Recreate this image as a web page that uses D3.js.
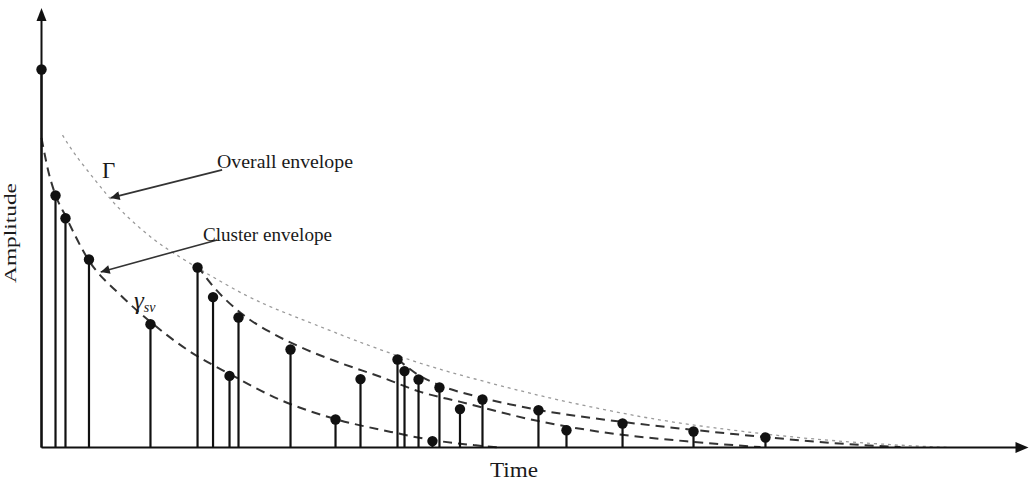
<!DOCTYPE html>
<html>
<head>
<meta charset="utf-8">
<script src="https://cdn.jsdelivr.net/npm/d3@7"></script>
<style>
  html, body { margin: 0; padding: 0; background: #fff; }
  svg { display: block; }
  text { font-family: "Liberation Serif", "DejaVu Serif", serif; fill: #1a1a1a; }
</style>
</head>
<body>
<svg id="chart" width="1030" height="483"></svg>
<script>
// Multipath arrivals: arrival time and amplitude of each ray
const arrivalTimes = [0, 1.42, 2.43, 4.81, 11.04, 15.81, 17.38, 19.05, 19.96, 25.23,
  29.79, 32.32, 36.07, 36.78, 38.2, 39.61, 40.32, 42.4, 44.68, 50.35,
  53.19, 58.87, 66.06, 73.35];
const arrivalAmps = [94.5, 63, 57.3, 47, 30.8, 45, 37.6, 17.9, 32.5, 24.5,
  7, 17.1, 22, 19.1, 17, 1.6, 15, 9.6, 12, 9.3,
  4.3, 6, 4, 2.5];

// Overall envelope (Γ)
const overallT = [2.13, 3.24, 5.67, 7.29, 9.02, 11.35, 13.37, 16.11, 20.87, 24.21, 27.56,
  31.61, 36.37, 41.13, 47.82, 51.87, 58.66, 64.74, 76.9, 87.03, 92.1];
const overallA = [78.1, 73.6, 66.1, 61.1, 56.9, 51.9, 48.6, 44.4, 37.6, 34.1, 30.9,
  26.9, 22.6, 18.9, 14.6, 12.1, 8.6, 5.9, 2.2, 0.5, 0];

// Cluster envelopes (γ_sv), one per cluster
const cluster1T = [0, 0.71, 1.42, 2.43, 4.76, 8.0, 11.04, 15.1, 19.05, 24.2, 29.8, 35.4, 39.5, 43.8, 46.5];
const cluster1A = [77.4, 68.9, 63.1, 57.9, 46.9, 38.1, 31.4, 23.9, 18.4, 11.9, 7.1, 3.9, 1.9, 0.6, 0];
const cluster2T = [15.81, 17.12, 20.47, 23.51, 26.24, 29.99, 34.65, 38.4, 42.45, 50.35, 56.64, 66.06, 72.85];
const cluster2A = [45.4, 41.1, 33.1, 28.4, 25.1, 21.4, 17.4, 13.9, 11.4, 6.6, 3.9, 1.4, 0.1];
const cluster3T = [36.07, 38.2, 40.32, 44.68, 50.35, 58.87, 66.06, 73.35, 80.24, 87.03];
const cluster3A = [22.1, 18.1, 15.6, 12.4, 9.4, 6.4, 4.4, 2.6, 1.1, 0.1];

// Axis titles and callouts
const xTitle = "Time";
const yTitle = "Amplitude";
const overallLabel = "Overall envelope";
const clusterLabel = "Cluster envelope";
// Callout arrow endpoints in data units: [tail, head]
const overallArrow = [[18.3, 69.4], [7.0, 62.4]];
const clusterArrow = [[17.8, 51.9], [6.0, 43.9]];

const svg = d3.select("#chart");
const x = d3.scaleLinear().domain([0, 100]).range([41.5, 1028.5]);
const y = d3.scaleLinear().domain([0, 100]).range([447.5, 47.5]);

const defs = svg.append("defs");
defs.append("marker")
  .attr("id", "callout-head")
  .attr("viewBox", "0 0 10 10")
  .attr("refX", 10).attr("refY", 5)
  .attr("markerWidth", 10).attr("markerHeight", 9)
  .attr("markerUnits", "userSpaceOnUse")
  .attr("orient", "auto")
  .append("path").attr("d", "M0,0 L10,5 L0,10 Z").attr("fill", "#222");

// Envelopes
const zip = (t, a) => t.map((v, i) => [v, a[i]]);
const smooth = d3.line().x(d => x(d[0])).y(d => y(d[1])).curve(d3.curveBasis);
const line = d3.line().x(d => x(d[0])).y(d => y(d[1])).curve(d3.curveMonotoneX);

svg.append("path")
  .attr("d", smooth(zip(overallT, overallA)))
  .attr("fill", "none").attr("stroke", "#9a9a9a")
  .attr("stroke-width", 1.3).attr("stroke-dasharray", "3,4");

[[cluster1T, cluster1A], [cluster2T, cluster2A], [cluster3T, cluster3A]].forEach(([t, a]) => {
  svg.append("path")
    .attr("d", line(zip(t, a)))
    .attr("fill", "none").attr("stroke", "#333")
    .attr("stroke-width", 2).attr("stroke-dasharray", "9,6");
});

// Stems and tips
const rays = zip(arrivalTimes, arrivalAmps);
svg.append("g").selectAll("line").data(rays).join("line")
  .attr("x1", d => x(d[0])).attr("x2", d => x(d[0]))
  .attr("y1", y(0)).attr("y2", d => y(d[1]))
  .attr("stroke", "#111").attr("stroke-width", 2.2);
svg.append("g").selectAll("circle").data(rays).join("circle")
  .attr("cx", d => x(d[0])).attr("cy", d => y(d[1]))
  .attr("r", 5.2).attr("fill", "#111");

// Axes with arrow heads
const x0 = x(0), yBase = y(0), xEnd = x.range()[1];
svg.append("line").attr("x1", x0).attr("x2", xEnd - 8).attr("y1", yBase).attr("y2", yBase)
  .attr("stroke", "#111").attr("stroke-width", 2);
svg.append("path")
  .attr("d", `M${xEnd},${yBase} L${xEnd - 13},${yBase - 5.5} L${xEnd - 13},${yBase + 5.5} Z`)
  .attr("fill", "#111");
svg.append("line").attr("x1", x0).attr("x2", x0).attr("y1", yBase).attr("y2", 16)
  .attr("stroke", "#111").attr("stroke-width", 2);
svg.append("path")
  .attr("d", `M${x0},8 L${x0 - 5},21 L${x0 + 5},21 Z`)
  .attr("fill", "#111");

// Callout arrows
[overallArrow, clusterArrow].forEach(([tail, head]) => {
  svg.append("line")
    .attr("x1", x(tail[0])).attr("y1", y(tail[1]))
    .attr("x2", x(head[0])).attr("y2", y(head[1]))
    .attr("stroke", "#333").attr("stroke-width", 1.6)
    .attr("marker-end", "url(#callout-head)");
});

// Labels
svg.append("text").attr("x", 217).attr("y", 168)
  .attr("font-size", 19).attr("textLength", 136).attr("lengthAdjust", "spacingAndGlyphs")
  .text(overallLabel);
svg.append("text").attr("x", 203).attr("y", 241)
  .attr("font-size", 19).attr("textLength", 129).attr("lengthAdjust", "spacingAndGlyphs")
  .text(clusterLabel);
svg.append("text").attr("x", 102).attr("y", 178)
  .attr("font-size", 23).text("Γ");
const g = svg.append("text").attr("x", 134).attr("y", 309)
  .attr("font-size", 25).attr("font-style", "italic");
g.append("tspan").text("γ");
g.append("tspan").attr("font-size", 14).attr("dy", 3).text("sv");

svg.append("text").attr("x", 490).attr("y", 477)
  .attr("font-size", 20).attr("textLength", 48).attr("lengthAdjust", "spacingAndGlyphs")
  .text(xTitle);
svg.append("text")
  .attr("transform", "translate(16,283) rotate(-90)")
  .attr("font-size", 17).attr("textLength", 100).attr("lengthAdjust", "spacingAndGlyphs")
  .text(yTitle);
</script>
</body>
</html>
